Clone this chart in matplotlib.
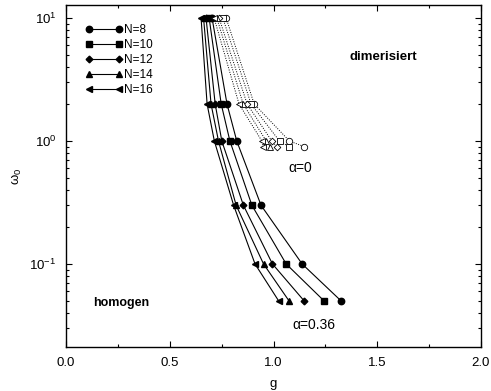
import matplotlib
matplotlib.use("Agg")
import matplotlib.pyplot as plt
from matplotlib.ticker import FixedLocator, LogLocator, NullFormatter

plt.rcParams['font.family'] = ['Liberation Sans', 'DejaVu Sans']
plt.rcParams['mathtext.fontset'] = 'custom'
plt.rcParams['mathtext.rm'] = 'Liberation Sans'
plt.rcParams['mathtext.it'] = 'Liberation Sans'
plt.rcParams['mathtext.bf'] = 'Liberation Sans:bold'

# System sizes
sizes = [8, 10, 12, 14, 16]
markers = ['o', 's', 'D', '^', '<']
msizes = [4.6, 4.2, 3.4, 4.6, 4.6]

# alpha = 0.36 (filled symbols, solid lines)
omega_dim = [10, 2, 1, 0.3, 0.1, 0.05]
g_dim = {
    8:  [0.704, 0.776, 0.823, 0.940, 1.138, 1.326],
    10: [0.690, 0.748, 0.790, 0.896, 1.061, 1.244],
    12: [0.675, 0.719, 0.751, 0.855, 0.995, 1.148],
    14: [0.663, 0.699, 0.735, 0.820, 0.952, 1.075],
    16: [0.651, 0.680, 0.715, 0.808, 0.911, 1.025],
}

# alpha = 0 (open symbols, dotted lines)
omega_free = [10, 2, 1, 0.9]
g_free = {
    8:  [0.772, 0.907, 1.077, 1.149],
    10: [0.756, 0.892, 1.029, 1.075],
    12: [0.738, 0.873, 0.992, 1.016],
    14: [0.727, 0.854, 0.965, 0.984],
    16: [0.714, 0.834, 0.944, 0.950],
}

fig = plt.figure(figsize=(4.91, 3.91), dpi=100)
W, H = 491, 391
ax = fig.add_axes([66 / W, 1 - 347 / H, (481 - 66) / W, (347 - 5) / H])

handles = []
for n, m, ms in zip(sizes, markers, msizes):
    h, = ax.plot(g_dim[n], omega_dim, color='black', lw=0.8, marker=m,
                 ms=ms, mfc='black', mec='black', label=f'N={n}')
    handles.append(h)
    ax.plot(g_free[n], omega_free, color='black', lw=0.7, ls=(0, (1, 1.5)),
            marker=m, ms=ms, mfc='white', mec='black', mew=0.6)

ax.set_yscale('log')
ax.set_xlim(0, 2)
ax.set_ylim(0.0211, 12.8)

ax.xaxis.set_major_locator(FixedLocator([0, 0.5, 1.0, 1.5, 2.0]))
ax.xaxis.set_minor_locator(FixedLocator([0.25, 0.75, 1.25, 1.75]))
ax.set_xticklabels(['0.0', '0.5', '1.0', '1.5', '2.0'])
ax.yaxis.set_major_locator(LogLocator(base=10, numticks=10))
ax.yaxis.set_minor_locator(LogLocator(base=10, subs=range(2, 10), numticks=20))
ax.yaxis.set_minor_formatter(NullFormatter())

ax.tick_params(which='both', direction='in', top=True, right=True,
               labelsize=9.5, width=0.8)
ax.tick_params(which='major', length=4, pad=7)
ax.tick_params(which='minor', length=2.5)
for sp in ax.spines.values():
    sp.set_linewidth(1.0)

ax.set_xlabel('g', fontsize=9.5, labelpad=7)
ax.set_ylabel(r'$\omega_0$', fontsize=9.5, labelpad=4)

ax.text(1.53, 4.8, 'dimerisiert', fontsize=9.5, fontweight='bold',
        ha='center', va='center')
ax.text(0.13, 0.048, 'homogen', fontsize=9, fontweight='bold',
        ha='left', va='center')
ax.text(1.128, 0.6, 'α=0', fontsize=10, ha='center', va='center')
ax.text(1.196, 0.032, 'α=0.36', fontsize=10, ha='center', va='center')

leg = ax.legend(handles=handles, loc='upper left', frameon=False,
                numpoints=2, handlelength=3.2, handletextpad=0.1,
                labelspacing=0.25, borderpad=0, borderaxespad=0,
                fontsize=8.5, bbox_to_anchor=(85 / W, 1 - 24 / H),
                bbox_transform=fig.transFigure)

fig.savefig('out.png', dpi=100)
